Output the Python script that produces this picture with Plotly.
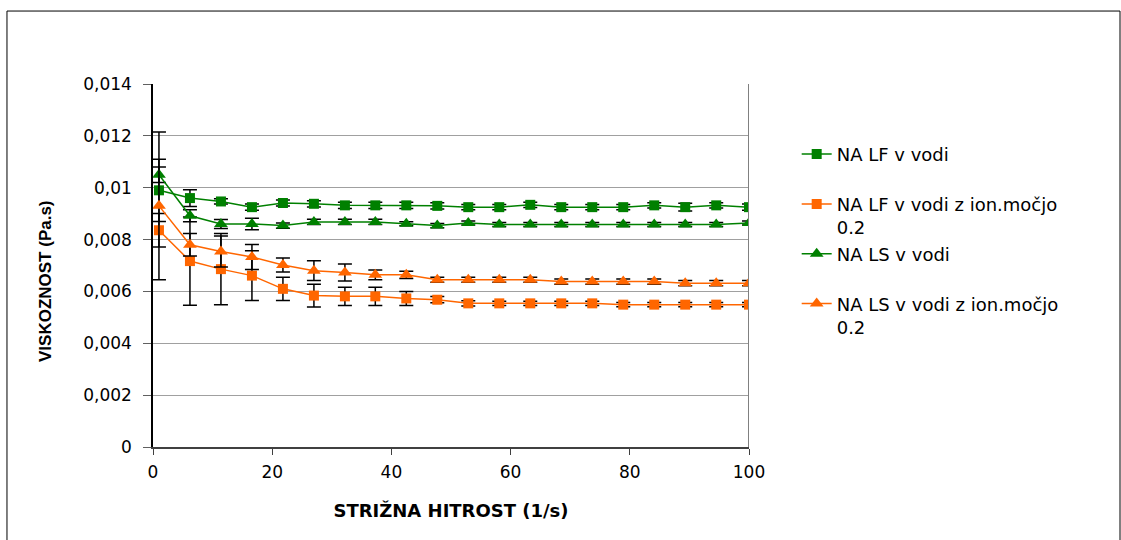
import plotly.graph_objects as go

# shear rate (1/s)
shear_rate = [1, 6.2, 11.4, 16.6, 21.8, 27.0, 32.2, 37.3, 42.5, 47.7,
              52.9, 58.1, 63.3, 68.5, 73.7, 78.9, 84.1, 89.3, 94.5, 100]

# viscosity (Pa.s)
lf_water = [0.00990, 0.00960, 0.00947, 0.00925, 0.00941, 0.00938, 0.00932, 0.00932, 0.00932, 0.00930,
            0.00925, 0.00925, 0.00934, 0.00925, 0.00925, 0.00925, 0.00932, 0.00925, 0.00932, 0.00925]
lf_water_err = [0.00120, 0.00032, 0.00010, 0.00012, 0.00012, 0.00012, 0.00012, 0.00012, 0.00012, 0.00012,
                0.00010, 0.00010, 0.00010, 0.00010, 0.00010, 0.00010, 0.00010, 0.00015, 0.00010, 0.00012]

lf_ion = [0.00836, 0.00717, 0.00686, 0.00661, 0.00610, 0.00584, 0.00581, 0.00581, 0.00573, 0.00568,
          0.00554, 0.00554, 0.00554, 0.00554, 0.00554, 0.00549, 0.00549, 0.00549, 0.00549, 0.00549]
lf_ion_err = [0.00065, 0.00170, 0.00137, 0.00096, 0.00045, 0.00044, 0.00035, 0.00035, 0.00027, 0.00012,
              0.00010, 0.00008, 0.00008, 0.00008, 0.00008, 0.00008, 0.00008, 0.00008, 0.00008, 0.00008]

ls_water = [0.01050, 0.00892, 0.00860, 0.00860, 0.00854, 0.00868, 0.00868, 0.00868, 0.00861, 0.00854,
            0.00864, 0.00858, 0.00858, 0.00858, 0.00858, 0.00858, 0.00858, 0.00858, 0.00858, 0.00864]
ls_water_err = [0.00030, 0.00023, 0.00017, 0.00022, 0.00010, 0.00010, 0.00010, 0.00010, 0.00008, 0.00008,
                0.00008, 0.00008, 0.00008, 0.00008, 0.00008, 0.00008, 0.00008, 0.00008, 0.00008, 0.00008]

ls_ion = [0.00930, 0.00780, 0.00754, 0.00733, 0.00702, 0.00680, 0.00673, 0.00664, 0.00664, 0.00645,
          0.00645, 0.00645, 0.00645, 0.00638, 0.00638, 0.00638, 0.00638, 0.00632, 0.00632, 0.00632]
ls_ion_err = [0.00285, 0.00043, 0.00060, 0.00048, 0.00027, 0.00038, 0.00033, 0.00019, 0.00014, 0.00010,
              0.00010, 0.00010, 0.00010, 0.00010, 0.00010, 0.00010, 0.00010, 0.00010, 0.00010, 0.00010]

names = ["NA LF v vodi<br> ", "NA LF v vodi z ion.močjo<br>0.2",
         "NA LS v vodi<br> ", "NA LS v vodi z ion.močjo<br>0.2"]

y_tickvals = [0, 0.002, 0.004, 0.006, 0.008, 0.010, 0.012, 0.014]
y_ticktext = ["0", "0,002", "0,004", "0,006", "0,008", "0,01", "0,012", "0,014"]
x_tickvals = [0, 20, 40, 60, 80, 100]

GREEN = "#008000"
ORANGE = "#FF6600"

series = [
    (lf_water, lf_water_err, GREEN, "square", 10, names[0]),
    (lf_ion, lf_ion_err, ORANGE, "square", 10, names[1]),
    (ls_water, ls_water_err, GREEN, "triangle-up", 12, names[2]),
    (ls_ion, ls_ion_err, ORANGE, "triangle-up", 12, names[3]),
]

fig = go.Figure()
for vals, errs, col, sym, size, nm in series:
    fig.add_trace(go.Scatter(
        x=shear_rate, y=vals, name=nm, mode="lines+markers",
        line=dict(color=col, width=1.5),
        marker=dict(symbol=sym, size=size, color=col),
        error_y=dict(type="data", array=errs, visible=True,
                     color="black", thickness=1.5, width=7),
    ))

fig.update_layout(
    width=1121, height=540,
    margin=dict(l=153, r=372, t=84, b=93),
    paper_bgcolor="white", plot_bgcolor="white",
    font=dict(family="DejaVu Sans, Liberation Sans, Arial", color="black"),
    showlegend=True,
    legend=dict(x=1.08, y=0.857, xanchor="left", yanchor="top",
                font=dict(size=18, family="DejaVu Sans"),
                valign="top", bgcolor="rgba(0,0,0,0)"),
    xaxis=dict(range=[0, 100], tickvals=x_tickvals, ticks="outside", ticklen=6,
               tickcolor="#404040", showline=True, linecolor="#404040", linewidth=2,
               showgrid=False, zeroline=False, ticklabelstandoff=3,
               tickfont=dict(size=17),
               title=dict(text="<b>STRIŽNA HITROST (1/s)</b>",
                          font=dict(size=18, family="DejaVu Sans"),
                          standoff=23)),
    yaxis=dict(range=[0, 0.014], tickvals=y_tickvals, ticktext=y_ticktext,
               ticks="outside", ticklen=8, tickcolor="#606060",
               showline=True, linecolor="black", linewidth=1.5,
               showgrid=True, gridcolor="#a0a0a0", gridwidth=1, zeroline=False,
               ticklabelstandoff=8,
               tickfont=dict(size=17)),
    annotations=[
        dict(text="<b>VISKOZNOST (Pa.s)</b>", textangle=-90,
             xref="paper", yref="paper", x=(45 - 153) / 596, y=(447 - 281) / 363,
             xanchor="center", yanchor="middle", showarrow=False,
             font=dict(size=17, family="Liberation Sans", color="black")),
    ],
    shapes=[
        dict(type="line", xref="x", yref="paper", x0=100, x1=100, y0=0, y1=1,
             line=dict(color="#808080", width=2)),
        dict(type="rect", xref="paper", yref="paper",
             x0=-0.245, x1=1.6225, y0=-0.27, y1=1.201,
             line=dict(color="black", width=1)),
    ],
)

fig.write_html("out.html")
